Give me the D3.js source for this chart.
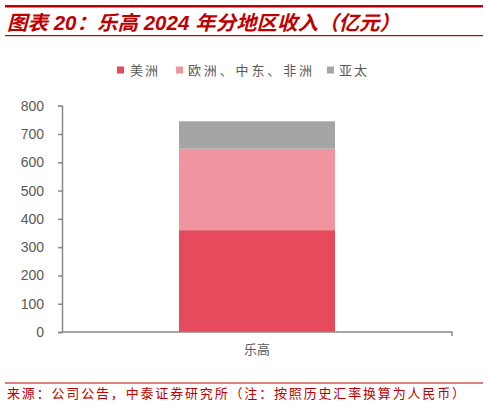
<!DOCTYPE html>
<html>
<head>
<meta charset="utf-8">
<script src="https://cdn.jsdelivr.net/npm/d3@7"></script>
<style>
html,body{margin:0;padding:0;background:#fff;}
svg{display:block;}
</style>
</head>
<body>
<svg id="chart" width="488" height="406"></svg>
<script>
// ---- data ----
const categories = ["乐高"];
const seriesNames = ["美洲", "欧洲、中东、非洲", "亚太"];
const americas = [360];
const emea = [288];
const apac = [97];
const yTicks = [0, 100, 200, 300, 400, 500, 600, 700, 800];
const titleText = "图表 20：乐高 2024 年分地区收入（亿元）";
const sourceText = "来源：公司公告，中泰证券研究所（注：按照历史汇率换算为人民币）";
const colors = ["#E54B5D", "#F0959F", "#A5A5A5"];

const svg = d3.select("#chart");
const CJK = "'Noto Sans CJK SC', sans-serif";
const LAT = "'Liberation Sans', Arial, 'Noto Sans CJK SC', sans-serif";

// header
svg.append("rect").attr("x", 5).attr("y", 5).attr("width", 478).attr("height", 2.5).attr("fill", "#C00000");
svg.append("text").attr("x", 7).attr("y", 30)
  .attr("font-family", LAT).attr("font-size", 20).attr("font-weight", "bold")
  .attr("font-style", "italic").attr("fill", "#C00000")
  .attr("textLength", 393).attr("lengthAdjust", "spacingAndGlyphs")
  .text(titleText);
svg.append("rect").attr("x", 5).attr("y", 35).attr("width", 478).attr("height", 1.2).attr("fill", "#C00000");

// scales
const margin = {left: 62, right: 452, top: 105.7, bottom: 332};
const y = d3.scaleLinear().domain([0, 800]).range([margin.bottom, margin.top]);
const x = d3.scaleBand().domain(categories).range([margin.left, margin.right]).paddingInner(0).paddingOuter(0.75);

// stack
const rows = categories.map((c, i) => ({cat: c, a: americas[i], b: emea[i], c2: apac[i]}));
const stack = d3.stack().keys(["a", "b", "c2"]);
const layers = stack(rows);

svg.append("g").selectAll("g").data(layers).join("g")
  .attr("fill", (d, i) => colors[i])
  .selectAll("rect").data(d => d).join("rect")
  .attr("x", d => x(d.data.cat))
  .attr("width", x.bandwidth())
  .attr("y", d => y(d[1]))
  .attr("height", d => y(d[0]) - y(d[1]));

// y axis
const yAxis = d3.axisLeft(y).tickValues(yTicks).tickSize(4).tickSizeOuter(4).tickPadding(14);
const gy = svg.append("g").attr("transform", `translate(${margin.left},0)`).call(yAxis);
gy.selectAll("path,line").attr("stroke", "#898989").attr("stroke-width", 1.5);
gy.selectAll("text").attr("font-family", LAT).attr("font-size", 14).attr("fill", "#595959");

// x axis
const xAxis = d3.axisBottom(x).tickSize(0).tickSizeOuter(4).tickPadding(13);
const gx = svg.append("g").attr("transform", `translate(0,${margin.bottom})`).call(xAxis);
gx.select("path").attr("stroke", "#898989").attr("stroke-width", 1.5)
  .attr("d", `M${margin.left},0H${margin.right}V4`);
gx.selectAll("text").attr("font-family", CJK).attr("font-size", 13).attr("fill", "#595959");

// legend
const legendItems = [
  {name: seriesNames[0], sx: 117, tx: 130, tw: 28},
  {name: seriesNames[1], sx: 176, tx: 188, tw: 124},
  {name: seriesNames[2], sx: 327, tx: 339, tw: 28}
];
const lg = svg.append("g");
legendItems.forEach((it, i) => {
  lg.append("rect").attr("x", it.sx).attr("y", 66.5).attr("width", 7).attr("height", 7).attr("fill", colors[i]);
  lg.append("text").attr("x", it.tx).attr("y", 75)
    .attr("font-family", CJK).attr("font-size", 13).attr("fill", "#595959")
    .attr("textLength", it.tw).attr("lengthAdjust", "spacing")
    .text(it.name);
});

// footer
svg.append("rect").attr("x", 5).attr("y", 382.5).attr("width", 478).attr("height", 1).attr("fill", "#C00000");
svg.append("text").attr("x", 7).attr("y", 398)
  .attr("font-family", CJK).attr("font-size", 13).attr("fill", "#C00000")
  .attr("textLength", 458).attr("lengthAdjust", "spacing")
  .text(sourceText);
</script>
</body>
</html>
